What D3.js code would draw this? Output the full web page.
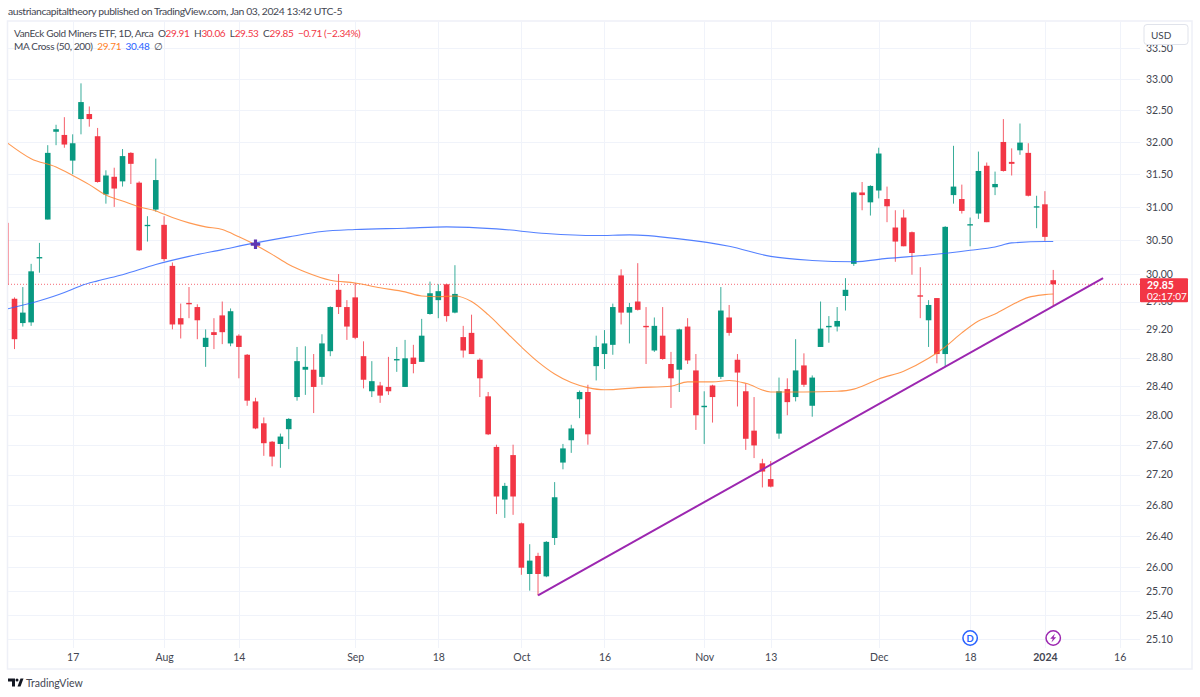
<!DOCTYPE html>
<html>
<head>
<meta charset="utf-8">
<title>GDX</title>
<script src="https://cdn.jsdelivr.net/npm/d3@7"></script>
<style>
	html, body { margin: 0; background: #fff; }
	text { font-family: Lato, sans-serif; }
</style>
</head>
<body>
<div id="app"></div>
<script>
// trading days shown on the chart, the first one is only there for the MA lines running off the left edge
const leadDay = '2023-07-05';
const candleDays = [
	'2023-07-06', '2023-07-07', '2023-07-10', '2023-07-11', '2023-07-12', '2023-07-13', '2023-07-14', '2023-07-17', '2023-07-18', '2023-07-19',
	'2023-07-20', '2023-07-21', '2023-07-24', '2023-07-25', '2023-07-26', '2023-07-27', '2023-07-28', '2023-07-31', '2023-08-01', '2023-08-02',
	'2023-08-03', '2023-08-04', '2023-08-07', '2023-08-08', '2023-08-09', '2023-08-10', '2023-08-11', '2023-08-14', '2023-08-15', '2023-08-16',
	'2023-08-17', '2023-08-18', '2023-08-21', '2023-08-22', '2023-08-23', '2023-08-24', '2023-08-25', '2023-08-28', '2023-08-29', '2023-08-30',
	'2023-08-31', '2023-09-01', '2023-09-05', '2023-09-06', '2023-09-07', '2023-09-08', '2023-09-11', '2023-09-12', '2023-09-13', '2023-09-14',
	'2023-09-15', '2023-09-18', '2023-09-19', '2023-09-20', '2023-09-21', '2023-09-22', '2023-09-25', '2023-09-26', '2023-09-27', '2023-09-28',
	'2023-09-29', '2023-10-02', '2023-10-03', '2023-10-04', '2023-10-05', '2023-10-06', '2023-10-09', '2023-10-10', '2023-10-11', '2023-10-12',
	'2023-10-13', '2023-10-16', '2023-10-17', '2023-10-18', '2023-10-19', '2023-10-20', '2023-10-23', '2023-10-24', '2023-10-25', '2023-10-26',
	'2023-10-27', '2023-10-30', '2023-10-31', '2023-11-01', '2023-11-02', '2023-11-03', '2023-11-06', '2023-11-07', '2023-11-08', '2023-11-09',
	'2023-11-10', '2023-11-13', '2023-11-14', '2023-11-15', '2023-11-16', '2023-11-17', '2023-11-20', '2023-11-21', '2023-11-22', '2023-11-24',
	'2023-11-27', '2023-11-28', '2023-11-29', '2023-11-30', '2023-12-01', '2023-12-04', '2023-12-05', '2023-12-06', '2023-12-07', '2023-12-08',
	'2023-12-11', '2023-12-12', '2023-12-13', '2023-12-14', '2023-12-15', '2023-12-18', '2023-12-19', '2023-12-20', '2023-12-21', '2023-12-22',
	'2023-12-26', '2023-12-27', '2023-12-28', '2023-12-29', '2024-01-02', '2024-01-03',
];
const futureDays = ['2024-01-04', '2024-01-05', '2024-01-08', '2024-01-09', '2024-01-10', '2024-01-11', '2024-01-12', '2024-01-16'];

const opens = [
	29.64, 29.29, 29.30, 30.23, 30.81, 32.16, 32.11, 31.71, 32.36, 32.44,
	32.09, 31.19, 31.46, 31.39, 31.83, 31.37, 30.71, 30.96, 30.73, 30.12,
	29.36, 29.58, 29.52, 28.95, 29.16, 29.40, 29.00, 29.11, 28.84, 28.19,
	27.89, 27.64, 27.61, 27.81, 28.25, 28.63, 28.63, 28.53, 28.89, 29.77,
	29.52, 29.66, 28.82, 28.33, 28.41, 28.39, 28.76, 28.39, 28.80, 28.74,
	29.42, 29.62, 29.85, 29.44, 29.09, 29.15, 28.77, 28.26, 27.57, 26.87,
	27.46, 26.56, 25.91, 26.14, 25.88, 26.37, 27.36, 27.66, 28.22, 28.32,
	28.68, 28.85, 28.98, 29.98, 29.44, 29.60, 29.25, 28.90, 29.11, 28.71,
	28.63, 29.24, 28.62, 28.11, 28.41, 28.53, 29.37, 28.77, 28.33, 27.79,
	27.35, 27.14, 27.75, 28.36, 28.25, 28.69, 28.13, 28.95, 29.23, 29.24,
	29.68, 30.15, 31.22, 31.07, 31.25, 31.12, 30.69, 30.84, 30.62, 29.69,
	29.33, 29.65, 28.85, 31.18, 31.12, 30.72, 30.90, 31.63, 31.30, 32.00,
	31.69, 31.87, 31.83, 30.99, 31.04, 29.91,
];
const highs = [
	29.66, 29.81, 30.15, 30.46, 31.95, 32.27, 32.39, 32.12, 32.93, 32.56,
	32.22, 31.56, 31.60, 31.89, 31.84, 31.39, 30.86, 31.74, 30.86, 30.17,
	29.57, 29.81, 29.56, 29.20, 29.36, 29.60, 29.50, 29.13, 28.85, 28.24,
	27.97, 27.65, 27.75, 27.96, 28.95, 28.96, 28.85, 29.13, 29.53, 30.00,
	29.62, 29.87, 29.03, 28.75, 28.46, 28.81, 28.95, 29.05, 28.98, 29.35,
	29.89, 29.85, 29.86, 30.13, 29.25, 29.41, 28.79, 28.32, 27.60, 27.09,
	27.60, 26.57, 26.29, 26.18, 26.33, 27.10, 27.61, 27.87, 28.34, 28.42,
	29.11, 29.19, 29.57, 30.07, 29.58, 30.16, 29.52, 29.37, 29.52, 28.88,
	29.21, 29.36, 28.85, 28.33, 28.42, 29.81, 29.55, 28.85, 28.44, 28.25,
	27.41, 27.38, 28.52, 28.51, 29.06, 28.86, 28.55, 29.60, 29.39, 29.52,
	29.94, 31.23, 31.38, 31.33, 31.91, 31.31, 30.95, 30.96, 30.63, 30.10,
	29.62, 29.65, 30.71, 31.94, 31.34, 30.84, 31.85, 31.68, 31.54, 32.36,
	31.90, 32.29, 31.98, 31.17, 31.24, 30.06,
];
const lows = [
	28.92, 29.24, 29.25, 30.02, 30.81, 31.95, 31.91, 31.50, 32.12, 32.24,
	31.37, 31.05, 31.00, 31.31, 31.35, 30.34, 30.48, 30.93, 30.19, 29.20,
	29.07, 29.36, 29.06, 28.67, 28.92, 28.99, 28.96, 28.51, 28.13, 27.81,
	27.45, 27.31, 27.29, 27.54, 28.20, 28.28, 28.03, 28.42, 28.82, 29.42,
	29.05, 29.06, 28.37, 28.25, 28.17, 28.28, 28.60, 28.39, 28.58, 28.74,
	29.41, 29.36, 29.31, 29.43, 28.80, 28.85, 28.25, 27.73, 26.68, 26.63,
	26.67, 25.90, 25.70, 25.64, 25.87, 26.28, 27.27, 27.49, 27.96, 27.60,
	28.48, 28.64, 28.84, 29.27, 29.00, 29.47, 28.71, 28.88, 28.77, 28.10,
	28.32, 28.71, 27.80, 27.61, 27.90, 28.50, 29.11, 28.12, 27.53, 27.42,
	27.03, 27.03, 27.68, 28.00, 28.19, 28.39, 27.98, 28.95, 29.01, 29.17,
	29.47, 30.12, 30.95, 30.87, 31.13, 30.77, 30.18, 30.41, 29.99, 29.36,
	28.95, 28.72, 28.67, 31.05, 30.90, 30.41, 30.82, 30.77, 31.18, 31.54,
	31.48, 31.80, 31.16, 30.68, 30.49, 29.53,
];
const closes = [
	29.06, 29.44, 30.04, 30.25, 31.83, 32.20, 31.96, 31.98, 32.63, 32.36,
	31.38, 31.48, 31.28, 31.78, 31.66, 30.35, 30.73, 31.41, 30.22, 29.27,
	29.27, 29.56, 29.33, 29.08, 29.12, 29.16, 29.46, 28.95, 28.20, 27.82,
	27.62, 27.44, 27.71, 27.95, 28.75, 28.67, 28.39, 29.00, 29.52, 29.52,
	29.24, 29.08, 28.49, 28.47, 28.27, 28.33, 28.78, 28.79, 28.71, 29.11,
	29.72, 29.75, 29.39, 29.71, 28.90, 28.85, 28.51, 27.74, 26.91, 27.05,
	26.91, 25.99, 26.08, 25.91, 26.32, 26.90, 27.55, 27.82, 28.32, 27.74,
	28.95, 29.00, 29.52, 29.44, 29.52, 29.48, 29.23, 29.25, 28.78, 28.51,
	29.20, 28.76, 28.00, 28.13, 28.25, 29.47, 29.15, 28.59, 27.68, 27.59,
	27.24, 27.04, 28.33, 28.18, 28.62, 28.42, 28.52, 29.21, 29.25, 29.32,
	29.77, 31.22, 31.18, 31.32, 31.82, 31.01, 30.48, 30.41, 30.31, 29.67,
	29.55, 28.85, 30.70, 31.31, 30.94, 30.74, 31.55, 30.77, 31.35, 31.55,
	31.66, 31.99, 31.17, 31.01, 30.55, 29.85,
];

// readings of the MA lines, positions are indices into candleDays (-1 is leadDay)
const fastAt = [-1, 2, 5, 7, 9, 11, 13, 15, 17, 19, 21, 23, 25, 27, 29, 31, 33, 35, 38, 41, 44, 47, 49, 51, 53, 55, 57, 59, 61, 63, 65, 67, 69, 71, 75, 79, 81, 84, 86, 88, 91, 95, 99, 101, 102, 104, 107, 110, 112, 114, 116, 118, 120, 122, 124, 125];
const fastMa = [32.00, 31.74, 31.61, 31.48, 31.34, 31.18, 31.09, 31.00, 30.94, 30.84, 30.76, 30.70, 30.66, 30.55, 30.43, 30.29, 30.14, 30.03, 29.91, 29.87, 29.80, 29.74, 29.68, 29.67, 29.68, 29.60, 29.41, 29.18, 28.95, 28.74, 28.57, 28.45, 28.38, 28.35, 28.38, 28.40, 28.46, 28.46, 28.48, 28.44, 28.32, 28.32, 28.33, 28.36, 28.40, 28.50, 28.61, 28.79, 28.95, 29.15, 29.32, 29.42, 29.55, 29.66, 29.70, 29.71];
const slowAt = [-1, 3, 6, 8, 10, 13, 17, 21, 25, 29, 33, 37, 41, 47, 52, 58, 64, 70, 74, 80, 86, 91, 96, 101, 105, 110, 115, 118, 120, 124, 125];
const slowMa = [29.49, 29.61, 29.73, 29.83, 29.90, 29.99, 30.14, 30.26, 30.36, 30.46, 30.55, 30.63, 30.66, 30.68, 30.70, 30.67, 30.60, 30.57, 30.58, 30.52, 30.41, 30.26, 30.20, 30.18, 30.23, 30.28, 30.35, 30.40, 30.46, 30.48, 30.48];

const crossDay = '2023-08-16';
const crossPrice = 30.44;
const trendDays = ['2023-10-04', '2024-01-11'];
const trendPrices = [25.64, 29.94];
const lastPrice = 29.85;
const prevBar = [30.76, 29.85];

const priceTicks = [33.5, 33, 32.5, 32, 31.5, 31, 30.5, 30, 29.6, 29.2, 28.8, 28.4, 28, 27.6, 27.2, 26.8, 26.4, 26, 25.7, 25.4, 25.1];
const timeTicks = ['2023-07-17', '2023-08-01', '2023-08-14', '2023-09-01', '2023-09-18', '2023-10-02', '2023-10-16', '2023-11-01', '2023-11-13', '2023-12-01', '2023-12-18', '2024-01-02', '2024-01-16'];
const timeLabels = ['17', 'Aug', '14', 'Sep', '18', 'Oct', '16', 'Nov', '13', 'Dec', '18', '2024', '16'];

const render = () => {
	const width = 1200;
	const height = 697;
	const plot = { left: 8, right: 1140, top: 22, bottom: 648 };
	const upColor = '#089981';
	const downColor = '#f23645';
	const gridColor = '#f0f3fa';
	const textColor = '#434651';

	const svg = d3.select('#app').append('svg')
		.attr('width', width)
		.attr('height', height)
		.style('display', 'block');

	const allDays = [leadDay, ...candleDays, ...futureDays];
	const x = d3.scalePoint()
		.domain(allDays)
		.range([6.2, 1119.7]);
	const y = d3.scaleLog()
		.domain([25.1, 33])
		.range([639, 79]);

	svg.append('defs').append('clipPath')
		.attr('id', 'plot-clip')
		.append('rect')
		.attr('x', plot.left)
		.attr('y', plot.top)
		.attr('width', plot.right - plot.left)
		.attr('height', plot.bottom - plot.top);

	// frame
	svg.append('rect')
		.attr('x', 7.5)
		.attr('y', 21)
		.attr('width', 1184.5)
		.attr('height', 648)
		.attr('fill', '#fff')
		.attr('stroke', '#eef0f7')
		.attr('stroke-width', 1.5);

	// grid
	svg.append('g')
		.selectAll('line')
		.data(priceTicks)
		.join('line')
		.attr('x1', plot.left)
		.attr('x2', plot.right)
		.attr('y1', (d) => Math.round(y(d)) + 0.5)
		.attr('y2', (d) => Math.round(y(d)) + 0.5)
		.attr('stroke', gridColor);
	svg.append('g')
		.selectAll('line')
		.data(timeTicks)
		.join('line')
		.attr('x1', (d) => Math.round(x(d)) + 0.5)
		.attr('x2', (d) => Math.round(x(d)) + 0.5)
		.attr('y1', plot.top)
		.attr('y2', plot.bottom)
		.attr('stroke', gridColor);

	// axes
	const priceAxis = svg.append('g')
		.attr('transform', `translate(1146, 0)`)
		.call(d3.axisRight(y).tickValues(priceTicks).tickSize(0).tickPadding(0).tickFormat(d3.format('.2f')));
	const timeAxis = svg.append('g')
		.attr('transform', `translate(0, 654)`)
		.call(d3.axisBottom(x).tickValues(timeTicks).tickSize(0).tickPadding(0).tickFormat((d) => timeLabels[timeTicks.indexOf(d)]));
	[priceAxis, timeAxis].forEach((axis) => {
		axis.select('.domain').remove();
		axis.selectAll('text')
			.attr('fill', textColor)
			.attr('font-size', 10.5)
			.style('font-family', 'Lato, sans-serif');
	});
	timeAxis.selectAll('text')
		.attr('font-weight', (d) => (d === '2024-01-02' ? 700 : 400));

	const chart = svg.append('g').attr('clip-path', 'url(#plot-clip)');

	// last price line and the bar change marker on the left edge
	chart.append('line')
		.attr('x1', plot.left)
		.attr('x2', plot.right)
		.attr('y1', y(lastPrice))
		.attr('y2', y(lastPrice))
		.attr('stroke', downColor)
		.attr('stroke-opacity', 0.75)
		.attr('stroke-dasharray', '1 2');
	chart.append('line')
		.attr('x1', 8.5)
		.attr('x2', 8.5)
		.attr('y1', y(prevBar[0]))
		.attr('y2', y(prevBar[1]))
		.attr('stroke', downColor)
		.attr('stroke-opacity', 0.45);

	// candles
	const candles = candleDays.map((day, i) => ({
		day,
		open: opens[i],
		high: highs[i],
		low: lows[i],
		close: closes[i],
		color: closes[i] >= opens[i] ? upColor : downColor,
	}));

	chart.append('g')
		.selectAll('line')
		.data(candles)
		.join('line')
		.attr('x1', (d) => x(d.day))
		.attr('x2', (d) => x(d.day))
		.attr('y1', (d) => y(d.high))
		.attr('y2', (d) => y(d.low))
		.attr('stroke', (d) => d.color)
		.attr('stroke-opacity', 0.8)
		.attr('stroke-width', 1);
	chart.append('g')
		.selectAll('rect')
		.data(candles)
		.join('rect')
		.attr('x', (d) => x(d.day) - 2.8)
		.attr('width', 5.6)
		.attr('y', (d) => y(Math.max(d.open, d.close)))
		.attr('height', (d) => Math.max(1, Math.abs(y(d.open) - y(d.close))))
		.attr('fill', (d) => d.color);

	// moving averages
	const maLine = d3.line()
		.x((d) => x(allDays[d.at + 1]))
		.y((d) => y(d.value))
		.curve(d3.curveMonotoneX);
	const drawMa = (at, values, color) => {
		chart.append('path')
			.datum(at.map((pos, i) => ({ at: pos, value: values[i] })))
			.attr('d', maLine)
			.attr('fill', 'none')
			.attr('stroke', color)
			.attr('stroke-opacity', 0.8)
			.attr('stroke-width', 1.1);
	};
	drawMa(fastAt, fastMa, '#ff7f27');
	drawMa(slowAt, slowMa, '#2962ff');

	// MA cross marker
	chart.append('path')
		.attr('d', d3.symbol(d3.symbolCross, 50)())
		.attr('transform', `translate(${x(crossDay)}, ${y(crossPrice)})`)
		.attr('fill', '#5e35b1');

	// trend line
	chart.append('line')
		.attr('x1', x(trendDays[0]))
		.attr('x2', x(trendDays[1]))
		.attr('y1', y(trendPrices[0]))
		.attr('y2', y(trendPrices[1]))
		.attr('stroke', '#9c27b0')
		.attr('stroke-width', 2);

	// USD button, sits on top of the 33.50 label
	svg.append('rect')
		.attr('x', 1144)
		.attr('y', 24.5)
		.attr('width', 44)
		.attr('height', 20)
		.attr('rx', 3)
		.attr('fill', '#fff')
		.attr('stroke', '#e0e3eb');
	svg.append('text')
		.attr('x', 1151)
		.attr('y', 39)
		.attr('font-size', 10)
		.attr('fill', textColor)
		.text('USD');

	// last price label
	svg.append('rect')
		.attr('x', 1140)
		.attr('y', y(lastPrice) - 6)
		.attr('width', 48)
		.attr('height', 24)
		.attr('rx', 1)
		.attr('fill', downColor);
	svg.append('text')
		.attr('x', 1147)
		.attr('y', y(lastPrice) + 5)
		.attr('font-size', 10.5)
		.attr('font-weight', 700)
		.attr('fill', '#fff')
		.text(d3.format('.2f')(lastPrice));
	svg.append('text')
		.attr('x', 1147)
		.attr('y', y(lastPrice) + 15.5)
		.attr('font-size', 10)
		.attr('fill', '#fff')
		.text('02:17:07');

	// dividend and earnings style badges
	svg.append('circle')
		.attr('cx', x('2023-12-18'))
		.attr('cy', 638)
		.attr('r', 7.2)
		.attr('fill', '#fff')
		.attr('stroke', '#2962ff')
		.attr('stroke-width', 1.5);
	svg.append('text')
		.attr('x', x('2023-12-18'))
		.attr('y', 641.5)
		.attr('text-anchor', 'middle')
		.attr('font-size', 9.5)
		.attr('font-weight', 700)
		.attr('fill', '#2962ff')
		.text('D');
	svg.append('circle')
		.attr('cx', x('2024-01-03'))
		.attr('cy', 638)
		.attr('r', 7.2)
		.attr('fill', '#fff')
		.attr('stroke', '#9c27b0')
		.attr('stroke-width', 1.5);
	svg.append('path')
		.attr('transform', `translate(${x('2024-01-03')}, 638)`)
		.attr('d', 'M1.8,-4.5 L-3,0.8 L-0.4,0.8 L-1.8,4.5 L3,-0.8 L0.4,-0.8 Z')
		.attr('fill', '#9c27b0');

	// header and legend
	svg.append('text')
		.attr('x', 8)
		.attr('y', 15)
		.attr('font-size', 10.4)
		.attr('letter-spacing', -0.38)
		.attr('fill', textColor)
		.text('austriancapitaltheory published on TradingView.com, Jan 03, 2024 13:42 UTC-5');

	const legendRow = (yPos, parts) => {
		const row = svg.append('text')
			.attr('x', 14)
			.attr('y', yPos)
			.attr('font-size', 10)
			.attr('letter-spacing', -0.32)
			.attr('xml:space', 'preserve');
		parts.forEach(([label, color]) => {
			row.append('tspan').attr('fill', color).text(label);
		});
	};
	legendRow(36.5, [
		['VanEck Gold Miners ETF, 1D, Arca  ', textColor],
		['O', textColor], ['29.91', downColor], ['  H', textColor], ['30.06', downColor],
		['  L', textColor], ['29.53', downColor], ['  C', textColor], ['29.85', downColor],
		['  \u22120.71 (\u22122.34%)', downColor],
	]);
	legendRow(50, [
		['MA Cross (50, 200)  ', textColor],
		['29.71', '#ff7f27'], ['  ', textColor], ['30.48', '#2962ff'], ['  \u2205', textColor],
	]);

	// footer logo
	svg.append('path')
		.attr('d', 'M8,678.5 H15 V686.5 H12 V681.5 H8 Z M17.5,686.5 L20.5,678.5 H23.5 L20.5,686.5 Z')
		.attr('fill', '#131722');
	svg.append('circle')
		.attr('cx', 17)
		.attr('cy', 680)
		.attr('r', 1.5)
		.attr('fill', '#131722');
	svg.append('text')
		.attr('x', 26)
		.attr('y', 687)
		.attr('font-size', 10.5)
		.attr('fill', textColor)
		.text('TradingView');
};

render();
</script>
</body>
</html>
